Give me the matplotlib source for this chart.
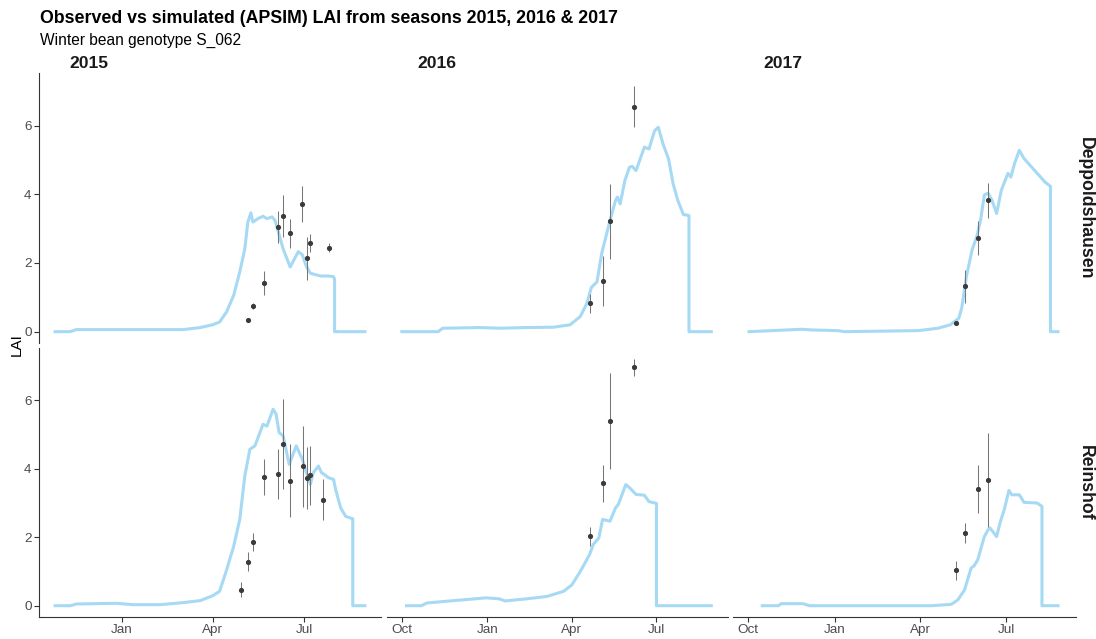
import matplotlib
matplotlib.use("Agg")
import matplotlib.pyplot as plt
import matplotlib.dates as mdates
import numpy as np
import pandas as pd

plt.rcParams['font.family'] = ['Liberation Sans', 'DejaVu Sans']

# ---------------- data ----------------
years = ["2015", "2016", "2017"]
sites = ["Deppoldshausen", "Reinshof"]

# simulated LAI (APSIM)
sim_2015_depp_dates = ["2014-10-27", "2014-11-11", "2014-11-17", "2015-03-03", "2015-03-20", "2015-04-01",
                       "2015-04-08", "2015-04-15", "2015-04-22", "2015-04-28", "2015-05-03", "2015-05-06",
                       "2015-05-09", "2015-05-11", "2015-05-16", "2015-05-21", "2015-05-25", "2015-05-30",
                       "2015-06-02", "2015-06-10", "2015-06-17", "2015-06-25", "2015-06-29", "2015-07-03",
                       "2015-07-07", "2015-07-17", "2015-07-25", "2015-07-30", "2015-07-31", "2015-07-31",
                       "2015-08-30"]
sim_2015_depp_lai = [0, 0, 0.06, 0.06, 0.12, 0.2, 0.28, 0.58, 1.06, 1.74, 2.41, 3.19, 3.46, 3.19, 3.29, 3.36,
                     3.29, 3.34, 3.24, 2.41, 1.88, 2.33, 2.24, 1.9, 1.7, 1.62, 1.62, 1.6, 1.52, 0, 0]

sim_2015_rein_dates = ["2014-10-27", "2014-11-11", "2014-11-17", "2014-12-27", "2015-01-12", "2015-02-08",
                       "2015-03-03", "2015-03-20", "2015-04-01", "2015-04-08", "2015-04-15", "2015-04-22",
                       "2015-04-28", "2015-05-03", "2015-05-08", "2015-05-13", "2015-05-18", "2015-05-21",
                       "2015-05-25", "2015-05-31", "2015-06-03", "2015-06-06", "2015-06-10", "2015-06-16",
                       "2015-06-23", "2015-06-29", "2015-07-03", "2015-07-07", "2015-07-10", "2015-07-15",
                       "2015-07-18", "2015-07-25", "2015-07-30", "2015-08-01", "2015-08-06", "2015-08-11",
                       "2015-08-18", "2015-08-18", "2015-08-30"]
sim_2015_rein_lai = [0, 0, 0.05, 0.07, 0.03, 0.03, 0.09, 0.15, 0.29, 0.42, 1.05, 1.74, 2.52, 3.79, 4.57, 4.67,
                     5.06, 5.3, 5.25, 5.74, 5.6, 5.06, 4.96, 4.13, 4.67, 4.28, 3.89, 3.55, 3.89, 4.08, 3.89,
                     3.74, 3.69, 3.4, 2.86, 2.61, 2.54, 0, 0]

sim_2016_depp_dates = ["2015-10-01", "2015-11-09", "2015-11-14", "2015-12-24", "2016-01-14", "2016-02-12",
                       "2016-03-12", "2016-03-30", "2016-04-10", "2016-04-17", "2016-04-22", "2016-04-28",
                       "2016-05-03", "2016-05-12", "2016-05-18", "2016-05-20", "2016-05-23", "2016-05-28",
                       "2016-06-02", "2016-06-05", "2016-06-09", "2016-06-18", "2016-06-23", "2016-06-29",
                       "2016-07-03", "2016-07-08", "2016-07-14", "2016-07-19", "2016-07-24", "2016-07-30",
                       "2016-08-05", "2016-08-05", "2016-08-29"]
sim_2016_depp_lai = [0, 0, 0.1, 0.12, 0.1, 0.12, 0.13, 0.2, 0.44, 0.82, 1.29, 1.45, 2.27, 3.24, 3.82, 3.92,
                     3.72, 4.4, 4.79, 4.81, 4.69, 5.37, 5.32, 5.85, 5.95, 5.47, 5.03, 4.3, 3.82, 3.41, 3.38,
                     0, 0]

sim_2016_rein_dates = ["2015-10-06", "2015-10-22", "2015-10-28", "2015-11-18", "2015-12-31", "2016-01-14",
                       "2016-01-20", "2016-02-12", "2016-03-05", "2016-03-23", "2016-04-01", "2016-04-10",
                       "2016-04-20", "2016-04-24", "2016-04-30", "2016-05-04", "2016-05-12", "2016-05-18",
                       "2016-05-21", "2016-05-29", "2016-06-02", "2016-06-09", "2016-06-18", "2016-06-23",
                       "2016-07-01", "2016-07-01", "2016-08-29"]
sim_2016_rein_lai = [0, 0, 0.08, 0.13, 0.23, 0.2, 0.14, 0.2, 0.27, 0.42, 0.61, 1.0, 1.49, 1.79, 1.98, 2.52,
                     2.47, 2.86, 2.96, 3.54, 3.45, 3.25, 3.23, 3.04, 2.99, 0, 0]

sim_2017_depp_dates = ["2016-10-02", "2016-11-27", "2016-12-07", "2017-01-04", "2017-01-11", "2017-03-30",
                       "2017-04-20", "2017-05-03", "2017-05-12", "2017-05-15", "2017-05-20", "2017-05-26",
                       "2017-05-31", "2017-06-04", "2017-06-08", "2017-06-12", "2017-06-16", "2017-06-21",
                       "2017-06-26", "2017-07-03", "2017-07-06", "2017-07-10", "2017-07-15", "2017-07-20",
                       "2017-07-31", "2017-08-11", "2017-08-17", "2017-08-17", "2017-08-25"]
sim_2017_depp_lai = [0, 0.07, 0.05, 0.03, 0, 0.03, 0.1, 0.2, 0.39, 0.68, 1.6, 2.38, 2.77, 3.25, 3.98, 4.03,
                     3.83, 3.44, 4.12, 4.61, 4.5, 4.9, 5.28, 5.04, 4.7, 4.36, 4.23, 0, 0]

sim_2017_rein_dates = ["2016-10-16", "2016-11-02", "2016-11-05", "2016-11-28", "2016-12-05", "2017-04-13",
                       "2017-05-04", "2017-05-11", "2017-05-18", "2017-05-25", "2017-05-28", "2017-06-01",
                       "2017-06-04", "2017-06-08", "2017-06-12", "2017-06-14", "2017-06-16", "2017-06-21",
                       "2017-06-25", "2017-06-29", "2017-07-04", "2017-07-07", "2017-07-15", "2017-07-20",
                       "2017-08-03", "2017-08-08", "2017-08-08", "2017-08-25"]
sim_2017_rein_lai = [0, 0, 0.06, 0.06, 0, 0, 0.04, 0.17, 0.46, 1.1, 1.16, 1.34, 1.63, 2.02, 2.22, 2.27, 2.2,
                     2.02, 2.46, 2.8, 3.37, 3.24, 3.24, 3.02, 3.0, 2.9, 0, 0]

# observed LAI (mean and standard deviation)
obs_2015_depp_dates = ["2015-05-06", "2015-05-11", "2015-05-22", "2015-06-05", "2015-06-10", "2015-06-17",
                       "2015-06-29", "2015-07-04", "2015-07-07", "2015-07-25"]
obs_2015_depp_mean = [0.34, 0.75, 1.42, 3.05, 3.37, 2.87, 3.71, 2.13, 2.57, 2.44]
obs_2015_depp_sd = [0.05, 0.08, 0.34, 0.47, 0.62, 0.42, 0.52, 0.64, 0.26, 0.13]

obs_2015_rein_dates = ["2015-04-29", "2015-05-06", "2015-05-11", "2015-05-22", "2015-06-05", "2015-06-10",
                       "2015-06-17", "2015-06-30", "2015-07-04", "2015-07-07", "2015-07-20"]
obs_2015_rein_mean = [0.46, 1.28, 1.86, 3.76, 3.84, 4.72, 3.65, 4.07, 3.74, 3.81, 3.10]
obs_2015_rein_sd = [0.22, 0.28, 0.26, 0.52, 0.73, 1.31, 1.07, 1.18, 0.91, 0.86, 0.59]

obs_2016_dates = ["2016-04-20", "2016-05-05", "2016-05-12", "2016-06-07"]
obs_2016_depp_mean = [0.82, 1.48, 3.21, 6.55]
obs_2016_depp_sd = [0.29, 0.73, 1.09, 0.60]
obs_2016_rein_mean = [2.03, 3.58, 5.40, 6.97]
obs_2016_rein_sd = [0.28, 0.54, 1.40, 0.25]

obs_2017_dates = ["2017-05-09", "2017-05-18", "2017-06-01", "2017-06-12"]
obs_2017_depp_mean = [0.26, 1.32, 2.73, 3.82]
obs_2017_depp_sd = [0.05, 0.48, 0.50, 0.51]
obs_2017_rein_mean = [1.03, 2.13, 3.41, 3.68]
obs_2017_rein_sd = [0.27, 0.29, 0.69, 1.38]

x_limits = {"2015": ("2014-10-11", "2015-09-15"),
            "2016": ("2015-09-15", "2016-09-16"),
            "2017": ("2016-09-15", "2017-09-13")}

sim = {
    ("Deppoldshausen", "2015"): (sim_2015_depp_dates, sim_2015_depp_lai),
    ("Reinshof", "2015"): (sim_2015_rein_dates, sim_2015_rein_lai),
    ("Deppoldshausen", "2016"): (sim_2016_depp_dates, sim_2016_depp_lai),
    ("Reinshof", "2016"): (sim_2016_rein_dates, sim_2016_rein_lai),
    ("Deppoldshausen", "2017"): (sim_2017_depp_dates, sim_2017_depp_lai),
    ("Reinshof", "2017"): (sim_2017_rein_dates, sim_2017_rein_lai),
}
obs = {
    ("Deppoldshausen", "2015"): (obs_2015_depp_dates, obs_2015_depp_mean, obs_2015_depp_sd),
    ("Reinshof", "2015"): (obs_2015_rein_dates, obs_2015_rein_mean, obs_2015_rein_sd),
    ("Deppoldshausen", "2016"): (obs_2016_dates, obs_2016_depp_mean, obs_2016_depp_sd),
    ("Reinshof", "2016"): (obs_2016_dates, obs_2016_rein_mean, obs_2016_rein_sd),
    ("Deppoldshausen", "2017"): (obs_2017_dates, obs_2017_depp_mean, obs_2017_depp_sd),
    ("Reinshof", "2017"): (obs_2017_dates, obs_2017_rein_mean, obs_2017_rein_sd),
}

# ---------------- layout ----------------
W, H = 1096, 639
fig = plt.figure(figsize=(W / 100, H / 100), dpi=100)
col_px = [(39, 381), (387, 728), (733, 1076)]
row_px = [(73, 343), (348, 617)]

LINE_COL = "#A6D9F4"
AX_COL = "#333333"
TICK_TXT = "#4D4D4D"

for r, site in enumerate(sites):
    for c, yr in enumerate(years):
        x0, x1 = col_px[c]
        y0, y1 = row_px[r]
        ax = fig.add_axes([x0 / W, 1 - y1 / H, (x1 - x0) / W, (y1 - y0) / H])
        ax.set_facecolor("white")
        d, v = sim[(site, yr)]
        ax.plot(pd.to_datetime(d), v, color=LINE_COL, lw=2.2, solid_joinstyle="round", zorder=2)
        od, om, osd = obs[(site, yr)]
        ax.errorbar(pd.to_datetime(od), om, yerr=osd, fmt="o", ms=2.7, color="#3a3a3a",
                    ecolor="#777777", elinewidth=0.75, capsize=0, zorder=3)
        ax.set_xlim(pd.to_datetime(x_limits[yr][0]), pd.to_datetime(x_limits[yr][1]))
        ax.set_ylim(-0.33, 7.53)
        for s in ["top", "right"]:
            ax.spines[s].set_visible(False)
        ax.spines["left"].set_visible(c == 0)
        ax.spines["bottom"].set_visible(r == 1)
        for s in ["left", "bottom"]:
            ax.spines[s].set_color(AX_COL)
            ax.spines[s].set_linewidth(0.8)
        ax.xaxis.set_major_locator(mdates.MonthLocator(bymonth=[1, 4, 7, 10]))
        ax.xaxis.set_major_formatter(mdates.DateFormatter("%b"))
        ax.set_yticks([0, 2, 4, 6])
        ax.tick_params(axis="both", colors=AX_COL, labelcolor=TICK_TXT, labelsize=9.7,
                       length=3.3, width=0.8, pad=2)
        if c != 0:
            ax.tick_params(axis="y", left=False, labelleft=False)
        if r != 1:
            ax.tick_params(axis="x", bottom=False, labelbottom=False)
        if r == 0:
            fig.text((x0 + 30) / W, 1 - 68 / H, yr, fontsize=12.6, fontweight="bold",
                     color="#1A1A1A", va="baseline", ha="left")
        if c == 2:
            fig.text(1085 / W, 1 - ((y0 + y1) / 2) / H, site, rotation=-90, fontsize=12.7,
                     fontweight="bold", color="#1A1A1A", va="center", ha="center")

fig.text(40 / W, 1 - 23 / H, "Observed vs simulated (APSIM) LAI from seasons 2015, 2016 & 2017",
         fontsize=12.8, fontweight="bold", va="baseline", ha="left")
fig.text(40 / W, 1 - 45 / H, "Winter bean genotype S_062", fontsize=11.2, va="baseline", ha="left")
fig.text(17 / W, 1 - 345 / H, "LAI", rotation=90, fontsize=11, va="center", ha="center")

fig.savefig("out.png", dpi=100, facecolor="white")
